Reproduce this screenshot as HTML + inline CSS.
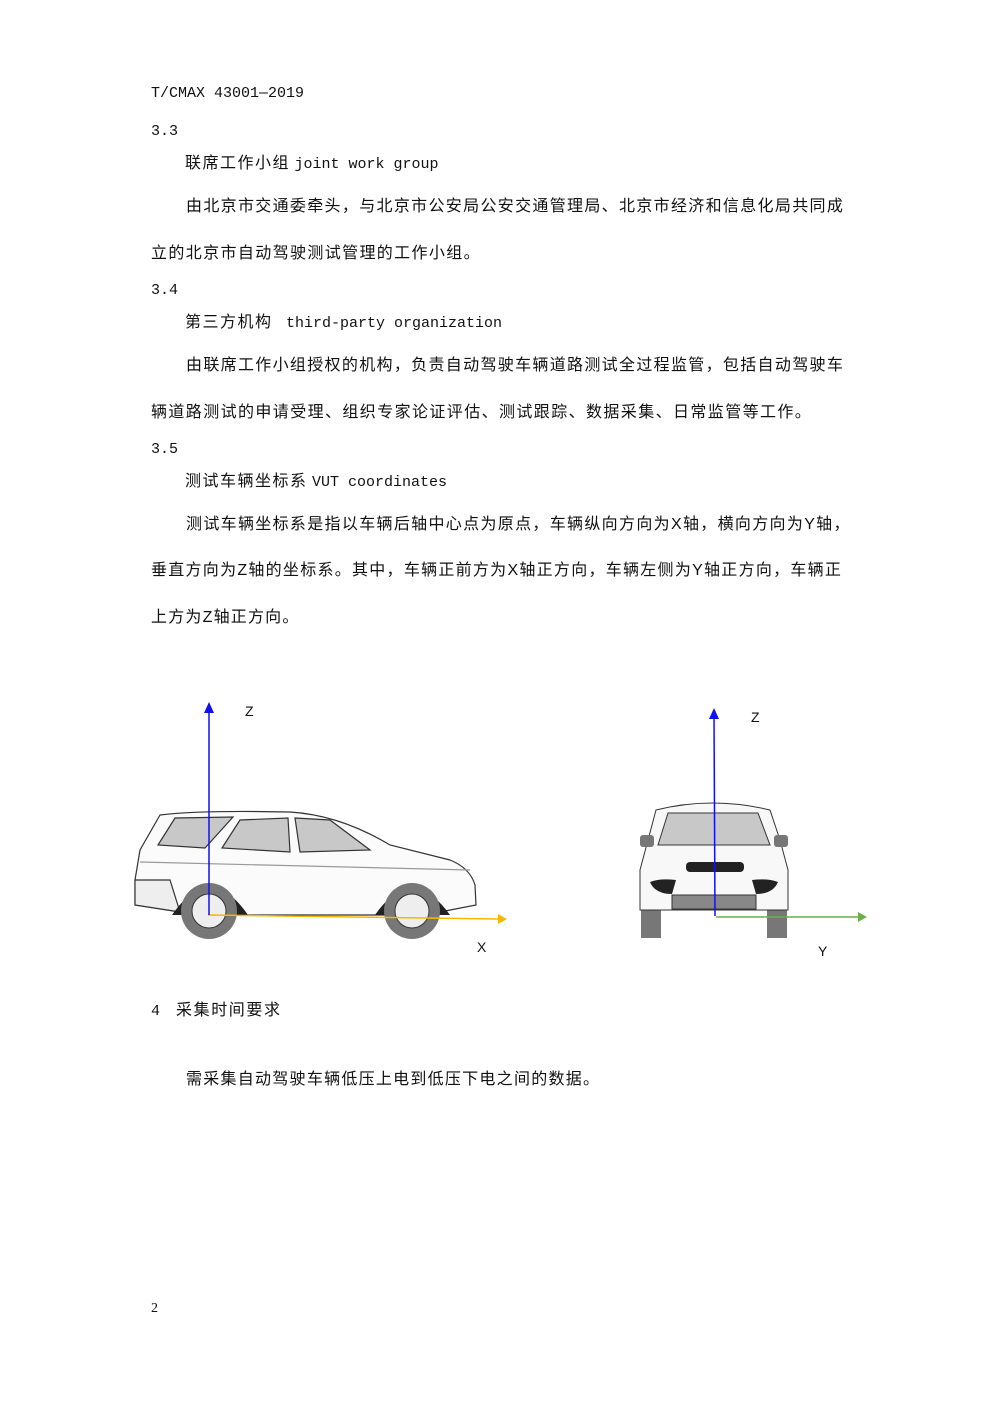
<!DOCTYPE html>
<html><head><meta charset="utf-8"><style>
body{margin:0;background:#fff;}
.p{position:relative;width:992px;height:1403px;background:#fff;font-family:"Liberation Sans","WenQuanYi Zen Hei","Noto Sans CJK SC",sans-serif;color:#111;}
.t{position:absolute;white-space:nowrap;font-size:16px;line-height:20px;}
.m{font-family:"Liberation Mono","WenQuanYi Zen Hei",monospace;font-size:15px;}
.h{letter-spacing:1.5px;}
</style></head><body><div class="p">
<div class="t m" style="left:151px;top:84px">T/CMAX 43001—2019</div>
<div class="t m" style="left:151px;top:122px">3.3</div>
<div class="t" style="left:185px;top:154px"><span class="h">联席工作小组</span> <span class="m">joint work group</span></div>
<div class="t" style="left:186px;top:197px;letter-spacing:1.32px">由北京市交通委牵头，与北京市公安局公安交通管理局、北京市经济和信息化局共同成</div>
<div class="t" style="left:151px;top:244px;letter-spacing:1.37px">立的北京市自动驾驶测试管理的工作小组。</div>
<div class="t m" style="left:151px;top:281px">3.4</div>
<div class="t" style="left:185px;top:313px"><span class="h">第三方机构</span>  <span class="m">&nbsp;third-party organization</span></div>
<div class="t" style="left:186px;top:356px;letter-spacing:1.32px">由联席工作小组授权的机构，负责自动驾驶车辆道路测试全过程监管，包括自动驾驶车</div>
<div class="t" style="left:151px;top:403px;letter-spacing:1.4px">辆道路测试的申请受理、组织专家论证评估、测试跟踪、数据采集、日常监管等工作。</div>
<div class="t m" style="left:151px;top:440px">3.5</div>
<div class="t" style="left:185px;top:472px"><span class="h">测试车辆坐标系</span> <span class="m">VUT coordinates</span></div>
<div class="t" style="left:186px;top:515px;letter-spacing:1.32px">测试车辆坐标系是指以车辆后轴中心点为原点，车辆纵向方向为X轴，横向方向为Y轴，</div>
<div class="t" style="left:151px;top:561px;letter-spacing:1.27px">垂直方向为Z轴的坐标系。其中，车辆正前方为X轴正方向，车辆左侧为Y轴正方向，车辆正</div>
<div class="t" style="left:151px;top:608px;letter-spacing:1.2px">上方为Z轴正方向。</div>
<svg style="position:absolute;left:0;top:0" width="992" height="1403">
<g stroke="#333" stroke-width="1.2">
<path d="M135,880 L140,850 L160,815 Q200,810 290,812 Q340,815 390,845 L450,860 Q470,868 475,885 L476,905 L440,912 L385,915 L235,915 L180,912 L135,905 Z" fill="#fbfbfb"/>
<path d="M158,845 L175,818 L233,817 L205,848 Z" fill="#c8c8c8"/>
<path d="M222,848 L240,820 L288,818 L290,852 Z" fill="#c8c8c8"/>
<path d="M295,818 L330,820 L370,850 L300,852 Z" fill="#c8c8c8"/>
<path d="M135,880 L135,905 L180,912 L170,880 Z" fill="#eee"/>
<line x1="140" y1="862" x2="470" y2="870" stroke="#999"/>
</g>
<path d="M172,915 Q210,860 248,915 Z" fill="#222"/>
<path d="M375,915 Q412,862 450,915 Z" fill="#222"/>
<circle cx="209" cy="911" r="28" fill="#777"/><circle cx="209" cy="911" r="17" fill="#eee" stroke="#333"/>
<circle cx="412" cy="911" r="28" fill="#777"/><circle cx="412" cy="911" r="17" fill="#eee" stroke="#333"/>
<line x1="208" y1="915" x2="498" y2="919" stroke="#f5b800" stroke-width="1.5"/>
<polygon points="498,914 507,919 498,924" fill="#f5b800"/>
<line x1="209" y1="915" x2="209" y2="710" stroke="#1010f0" stroke-width="1.5"/>
<polygon points="204,713 209,702 214,713" fill="#1010f0"/>
<rect x="641" y="895" width="20" height="43" fill="#777"/>
<rect x="767" y="895" width="20" height="43" fill="#777"/>
<path d="M656,810 Q712,796 770,810 L780,840 L788,870 L788,910 L640,910 L640,870 L648,840 Z" fill="#f8f8f8" stroke="#333"/>
<path d="M658,845 L668,813 L758,813 L770,845 Z" fill="#c8c8c8" stroke="#333"/>
<rect x="640" y="835" width="14" height="12" rx="3" fill="#777"/>
<rect x="774" y="835" width="14" height="12" rx="3" fill="#777"/>
<rect x="686" y="862" width="58" height="10" rx="4" fill="#222"/>
<path d="M650,882 Q660,878 676,880 L672,894 Q655,894 650,882 Z" fill="#222"/>
<path d="M778,882 Q768,878 752,880 L756,894 Q773,894 778,882 Z" fill="#222"/>
<rect x="672" y="895" width="84" height="14" fill="#888" stroke="#333"/>
<line x1="716" y1="917" x2="858" y2="917" stroke="#6ab04c" stroke-width="1.5"/>
<polygon points="858,912 867,917 858,922" fill="#6ab04c"/>
<line x1="715" y1="916" x2="714" y2="715" stroke="#1010f0" stroke-width="1.5"/>
<polygon points="709,719 714,708 719,719" fill="#1010f0"/>
<g font-family="Liberation Sans,sans-serif" font-size="14" fill="#111">
<text x="245" y="716">Z</text><text x="477" y="952">X</text>
<text x="751" y="722">Z</text><text x="818" y="956">Y</text>
</g>
</svg>
<div class="t" style="left:151px;top:1001px"><span class="m">4</span><span style="position:absolute;left:25px;letter-spacing:1.6px">采集时间要求</span></div>
<div class="t" style="left:186px;top:1070px;letter-spacing:1.26px">需采集自动驾驶车辆低压上电到低压下电之间的数据。</div>
<div class="t" style="left:151px;top:1299px;font-family:'Liberation Serif',serif;font-size:14px">2</div>
</div></body></html>
